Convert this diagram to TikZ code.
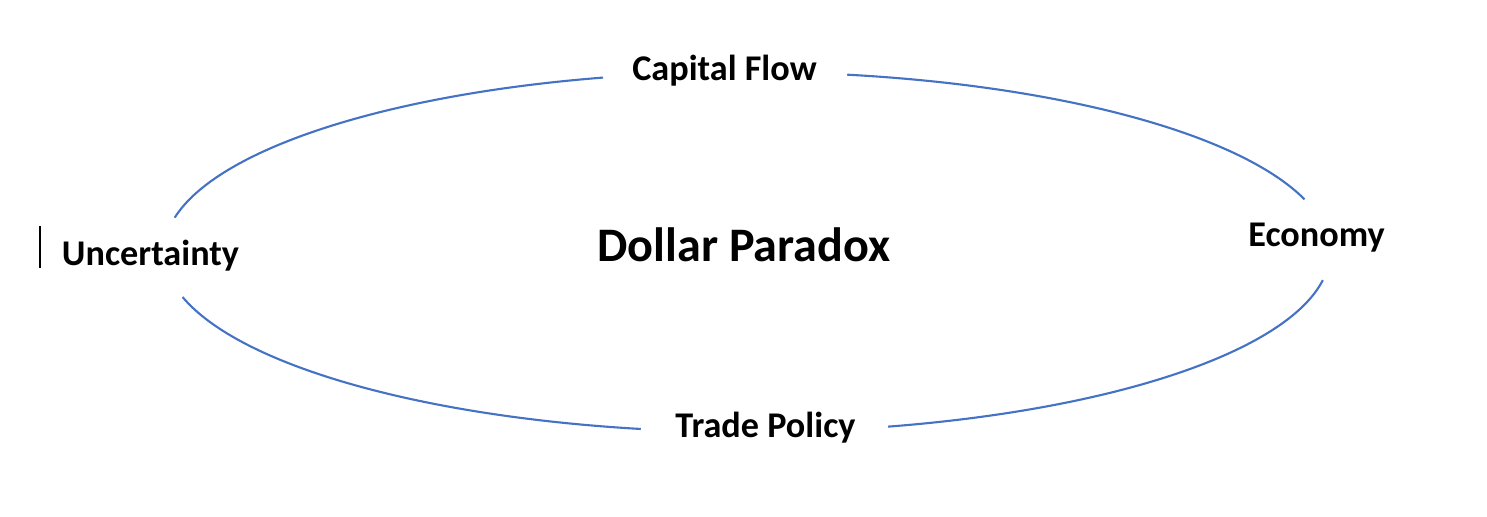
\documentclass[tikz,border=0pt]{standalone}
\usepackage{fontspec}
\setmainfont{Carlito}
\usetikzlibrary{calc}
\definecolor{ringblue}{HTML}{4472C4}

\begin{document}
\begin{tikzpicture}[ring/.style={draw=ringblue, line width=0.6pt},
    lbl/.style={font=\bfseries\fontsize{10.3}{12}\selectfont, anchor=base, inner sep=0pt},
    title/.style={font=\bfseries\fontsize{13.7}{16}\selectfont, anchor=base, inner sep=0pt}]
    \useasboundingbox (0,0) rectangle (14.87,5.17);
    \coordinate (c) at (7.47,2.65);
    \node[title] (dlr) at (7.44,2.55)  {Dollar Paradox};
    \node[lbl]   (cap) at (7.245,4.36) {Capital Flow};
    \node[lbl]   (eco) at (13.165,2.70) {Economy};
    \node[lbl]   (trd) at (7.655,0.79) {Trade Policy};
    \node[lbl]   (unc) at (1.505,2.51) {Uncertainty};
    % ends of the ring pieces
    \coordinate (unc-n) at ($(c)+(169:5.83 and 1.8)$);
    \coordinate (cap-w) at ($(c)+(104.3:5.83 and 1.8)$);
    \coordinate (cap-e) at ($(c)+(80.1:5.83 and 1.8)$);
    \coordinate (eco-n) at ($(c)+(17:5.83 and 1.8)$);
    \coordinate (eco-s) at ($(c)+(-9:5.83 and 1.8)$);
    \coordinate (trd-e) at ($(c)+(-76:5.83 and 1.8)$);
    \coordinate (trd-w) at ($(c)+(-100.5:5.83 and 1.8)$);
    \coordinate (unc-s) at ($(c)+(-165.5:5.83 and 1.8)$);
    \draw[ring] (unc-n) arc[start angle=169, end angle=104.3, x radius=5.83, y radius=1.8];
    \draw[ring] (cap-e) arc[start angle=80.1, end angle=17, x radius=5.83, y radius=1.8];
    \draw[ring] (eco-s) arc[start angle=-9, end angle=-76, x radius=5.83, y radius=1.8];
    \draw[ring] (trd-w) arc[start angle=-100.5, end angle=-165.5, x radius=5.83, y radius=1.8];
    % text cursor
    \coordinate (cur-t) at (0.40,2.91);
    \coordinate (cur-b) at (0.40,2.49);
    \draw[line width=0.35pt] (cur-t) -- (cur-b);
\end{tikzpicture}
\end{document}
